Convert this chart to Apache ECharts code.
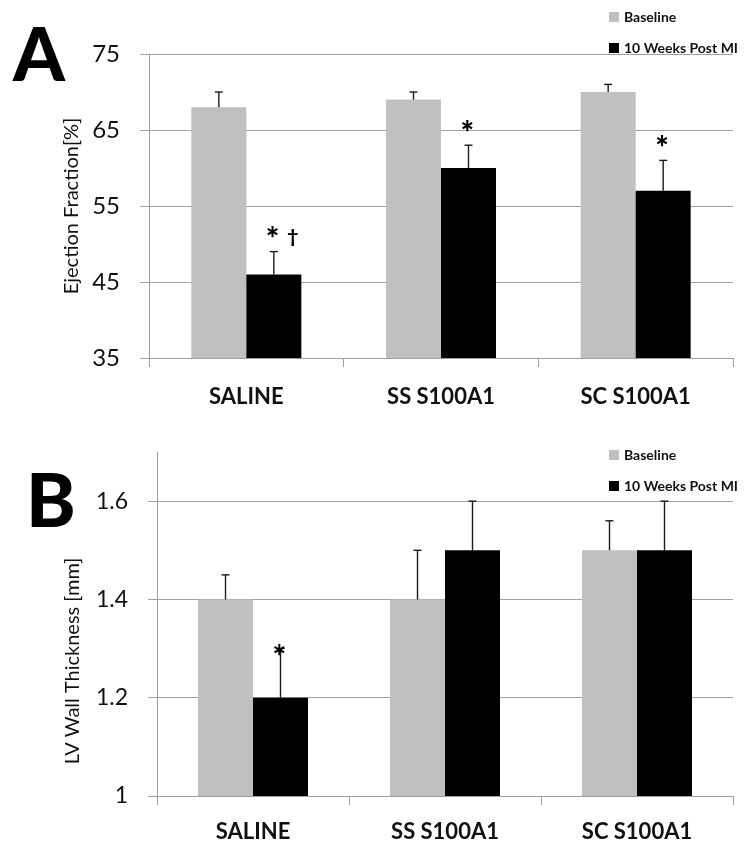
<!DOCTYPE html>
<html>
<head>
<meta charset="utf-8">
<script src="https://cdn.jsdelivr.net/npm/echarts@6/dist/echarts.min.js"></script>
<style>
  html, body { margin: 0; padding: 0; background: #fff; }
  #main { width: 747px; height: 848px; }
</style>
</head>
<body>
<div id="main"></div>
<script>
// data
var groups = ['SALINE', 'SS S100A1', 'SC S100A1'];
var seriesNames = ['Baseline', '10 Weeks Post MI'];

// panel A - ejection fraction [%]
var efBase = [68, 69, 70];
var efBaseErr = [2, 1, 1];
var efPost = [46, 60, 57];
var efPostErr = [3, 3, 4];
var efPostMarks = ['*|\u2020', '*', '*'];

// panel B - LV wall thickness [mm]
var wtBase = [1.4, 1.4, 1.5];
var wtBaseErr = [0.05, 0.1, 0.06];
var wtPost = [1.2, 1.5, 1.5];
var wtPostErr = [0.1, 0.1, 0.1];
var wtPostMarks = ['*', '', ''];

var FONT = 'Lato, "Open Sans", sans-serif';
var GRID_COL = '#a0a0a0';
var BAR_W = 55;

// error bar (+ optional mark above it) drawn through the axis scales
function errItems(vals, errs) {
  return vals.map(function (v, i) { return [i, v, errs[i]]; });
}
function errRender(offset, marks, markGap) {
  return function (params, api) {
    var base = api.coord([api.value(0), api.value(1)]);
    var top = api.coord([api.value(0), api.value(1) + api.value(2)]);
    var cx = base[0] + offset;
    var st = { stroke: '#1a1a1a', lineWidth: 1.4 };
    var kids = [
      { type: 'line', shape: { x1: cx, y1: base[1], x2: cx, y2: top[1] }, style: st },
      { type: 'line', shape: { x1: cx - 4, y1: top[1], x2: cx + 4, y2: top[1] }, style: st }
    ];
    var mark = marks ? marks[params.dataIndex] : '';
    if (mark) {
      var parts = mark.split('|');
      kids.push({
        type: 'text',
        style: {
          text: parts[0], x: cx - 8, y: top[1] - markGap,
          align: 'left', verticalAlign: 'middle',
          font: '900 32px ' + FONT, fill: '#000'
        },
        z2: 10
      });
      if (parts[1]) {
        kids.push({
          type: 'text',
          style: {
            text: parts[1], x: cx + 19, y: top[1] - markGap - 3,
            align: 'center', verticalAlign: 'middle',
            font: '900 19px ' + FONT, fill: '#000'
          },
          z2: 10
        });
      }
    }
    return { type: 'group', children: kids };
  };
}

function legendFor(top) {
  return {
    data: seriesNames, orient: 'vertical', left: 604, top: top,
    icon: 'rect', itemWidth: 10, itemHeight: 10, itemGap: 17,
    textStyle: { fontFamily: FONT, fontWeight: 'bold', fontSize: 14, color: '#111' },
    selectedMode: false
  };
}

var chart = echarts.init(document.getElementById('main'), null, { renderer: 'canvas' });
chart.setOption({
  animation: false,
  backgroundColor: '#fff',
  title: [
    { text: 'A', left: 8, top: 15, textStyle: { fontFamily: FONT, fontWeight: 900, fontSize: 74, color: '#000' } },
    { text: 'B', left: 21, top: 460, textStyle: { fontFamily: FONT, fontWeight: 900, fontSize: 75, color: '#000' } }
  ],
  legend: [legendFor(5), legendFor(443)],
  grid: [
    { left: 149, right: 14, top: 54, height: 304 },
    { left: 157, right: 14, top: 452, height: 344 }
  ],
  graphic: [
    {
      type: 'text', x: 73, y: 661, rotation: Math.PI / 2,
      style: { text: 'LV Wall Thickness [mm]', align: 'center', verticalAlign: 'middle', font: '20px ' + FONT, fill: '#111' }
    }
  ],
  xAxis: [0, 1].map(function (g) {
    return {
      type: 'category', gridIndex: g, data: groups,
      axisLine: { lineStyle: { color: GRID_COL } },
      axisTick: { show: true, length: 9, lineStyle: { color: GRID_COL } },
      axisLabel: { margin: g ? 25 : 28, fontFamily: FONT, fontWeight: 'bold', fontSize: 22, color: '#111' }
    };
  }),
  yAxis: [
    {
      type: 'value', gridIndex: 0, min: 35, max: 75, interval: 10,
      name: 'Ejection Fraction[%]', nameLocation: 'middle', nameGap: 64,
      nameTextStyle: { fontFamily: FONT, fontSize: 20, color: '#111' },
      axisLine: { show: true, lineStyle: { color: GRID_COL } },
      axisTick: { show: true, length: 9, lineStyle: { color: GRID_COL } },
      axisLabel: { margin: 29, fontFamily: FONT, fontSize: 24, color: '#111' },
      splitLine: { lineStyle: { color: GRID_COL } }
    },
    {
      type: 'value', gridIndex: 1, min: 1, max: 1.7, interval: 0.2,
      axisLine: { show: true, lineStyle: { color: GRID_COL } },
      axisTick: { show: true, length: 9, lineStyle: { color: GRID_COL } },
      axisLabel: { margin: 29, fontFamily: FONT, fontSize: 23, color: '#111', showMaxLabel: false },
      splitLine: { showMaxLine: false, lineStyle: { color: GRID_COL } }
    }
  ],
  series: [
    { name: seriesNames[0], type: 'bar', xAxisIndex: 0, yAxisIndex: 0, data: efBase, barWidth: BAR_W, barGap: 0, itemStyle: { color: '#c0c0c0' } },
    { name: seriesNames[1], type: 'bar', xAxisIndex: 0, yAxisIndex: 0, data: efPost, barWidth: BAR_W, barGap: 0, itemStyle: { color: '#000' } },
    { name: seriesNames[0], type: 'bar', xAxisIndex: 1, yAxisIndex: 1, data: wtBase, barWidth: BAR_W, barGap: 0, itemStyle: { color: '#c0c0c0' } },
    { name: seriesNames[1], type: 'bar', xAxisIndex: 1, yAxisIndex: 1, data: wtPost, barWidth: BAR_W, barGap: 0, itemStyle: { color: '#000' } },
    { type: 'custom', xAxisIndex: 0, yAxisIndex: 0, z: 5, renderItem: errRender(-BAR_W / 2, null, 0), data: errItems(efBase, efBaseErr) },
    { type: 'custom', xAxisIndex: 0, yAxisIndex: 0, z: 5, renderItem: errRender(BAR_W / 2, efPostMarks, 12), data: errItems(efPost, efPostErr) },
    { type: 'custom', xAxisIndex: 1, yAxisIndex: 1, z: 5, renderItem: errRender(-BAR_W / 2, null, 0), data: errItems(wtBase, wtBaseErr) },
    { type: 'custom', xAxisIndex: 1, yAxisIndex: 1, z: 5, renderItem: errRender(BAR_W / 2, wtPostMarks, -9), data: errItems(wtPost, wtPostErr) }
  ]
});
</script>
</body>
</html>
